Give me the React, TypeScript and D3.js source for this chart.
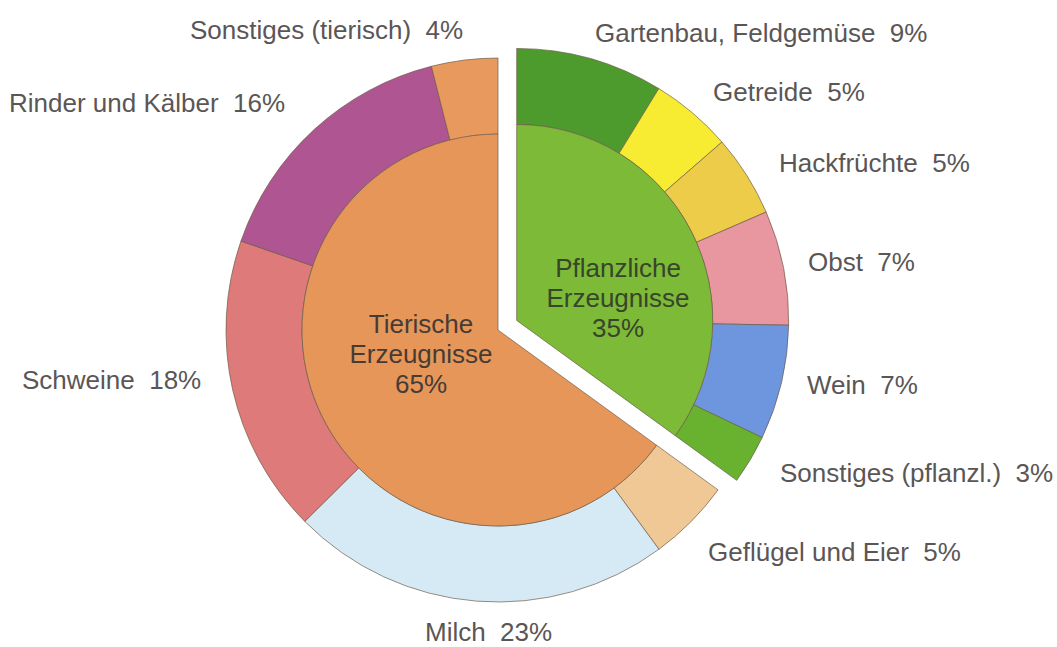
import React from "react";
import * as d3 from "d3";

// ---- data ----
const groupNames = ["Pflanzliche Erzeugnisse", "Tierische Erzeugnisse"];
const groupValues = [35, 65];
const groupColors = ["#7DBA38", "#E7965A"];

const plantNames = ["Gartenbau, Feldgemüse", "Getreide", "Hackfrüchte", "Obst", "Wein", "Sonstiges (pflanzl.)"];
const plantValues = [9, 5, 5, 7, 7, 3];
const plantColors = ["#4E9B2D", "#F7EC32", "#ECCC48", "#E896A0", "#6E96DE", "#69B230"];

const animalNames = ["Geflügel und Eier", "Milch", "Schweine", "Rinder und Kälber", "Sonstiges (tierisch)"];
const animalValues = [5, 23, 18, 16, 4];
const animalColors = ["#F0C896", "#D6EAF6", "#DE7A7A", "#AF5591", "#E8995E"];

// ---- layout (label anchors, not data) ----
const plantLabelPos: [number, number][] = [
  [595, 42], [713, 101], [779, 172], [808, 271], [807, 394], [780, 482],
];
const animalLabelPos: [number, number][] = [
  [708, 561], [425, 641], [22, 389], [9, 112], [190, 39],
];

const W = 1057, H = 647;
const cx = 498, cy = 330;
const rIn = 196, rOut = 272;
const explode = 21;

export default function App() {
  const innerPie = d3.pie<number>().sort(null).value((d) => d);
  const groups = innerPie(groupValues);
  const innerArc = d3.arc<d3.PieArcDatum<number>>().innerRadius(0).outerRadius(rIn);
  const outerArc = d3.arc<d3.PieArcDatum<number>>().innerRadius(rIn).outerRadius(rOut);

  const childSets = [
    { values: plantValues, colors: plantColors, names: plantNames, pos: plantLabelPos },
    { values: animalValues, colors: animalColors, names: animalNames, pos: animalLabelPos },
  ];

  const stroke = "#6a5a48";
  const textColor = "#5b5656";

  return (
    <svg width={W} height={H} style={{ position: "absolute", left: 0, top: 0, background: "#fff" }}
      fontFamily="'Liberation Sans', Arial, sans-serif">
      {groups.map((g, gi) => {
        const mid = (g.startAngle + g.endAngle) / 2;
        const off = gi === 0 ? explode : 0;
        const dx = off * Math.sin(mid), dy = -off * Math.cos(mid);
        const set = childSets[gi];
        const children = d3.pie<number>().sort(null).value((d) => d)
          .startAngle(g.startAngle).endAngle(g.endAngle)(set.values);
        return (
          <g key={gi} transform={`translate(${cx + dx},${cy + dy})`}>
            {children.map((c, ci) => (
              <path key={ci} d={outerArc(c) as string} fill={set.colors[ci]} stroke={stroke}
                strokeWidth={0.9} strokeOpacity={0.75} />
            ))}
            <path d={innerArc(g) as string} fill={groupColors[gi]} stroke={stroke}
              strokeWidth={0.9} strokeOpacity={0.75} />
          </g>
        );
      })}
      {/* center labels */}
      <g fontSize={26} textAnchor="middle" fill="#463c34">
        <text x={421} y={333}>Tierische</text>
        <text x={421} y={363}>Erzeugnisse</text>
        <text x={421} y={393}>{groupValues[1]}%</text>
      </g>
      <g fontSize={26} textAnchor="middle" fill="#38452a">
        <text x={618} y={277}>Pflanzliche</text>
        <text x={618} y={307}>Erzeugnisse</text>
        <text x={618} y={337}>{groupValues[0]}%</text>
      </g>
      {/* outer labels */}
      <g fontSize={26} fill={textColor}>
        {childSets.map((set, si) =>
          set.names.map((n, i) => (
            <text key={`${si}-${i}`} x={set.pos[i][0]} y={set.pos[i][1]}
              style={{ whiteSpace: "pre" }}>
              {`${n}  ${set.values[i]}%`}
            </text>
          ))
        )}
      </g>
    </svg>
  );
}
